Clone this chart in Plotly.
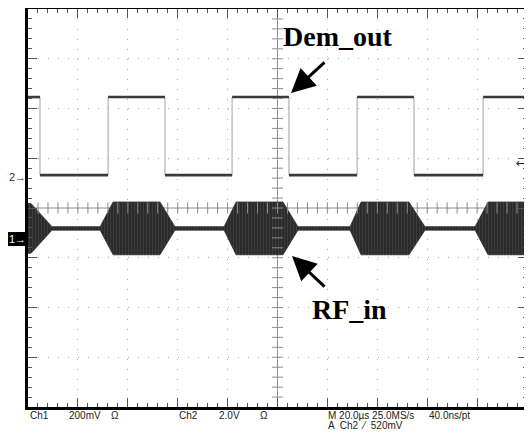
import plotly.graph_objects as go

# ---------------- data (read from the scope screen) ----------------
# time axis in microseconds (20 us/div, 10 div), vertical axis in divisions
# Ch2 demodulated output: transition times and segment levels (div)
sq_edges_us = [-95.2, -67.9, -45.1, -18.2, 4.6, 31.9, 54.7, 82.4]
sq_levels_div = [2.23, 0.66, 2.23, 0.66, 2.23, 0.66, 2.23, 0.66, 2.23]

# Ch1 RF input: burst envelope breakpoints (time, half amplitude in div)
rf_t_us = [-100, -98.8, -90.4, -71.1, -65.9, -47.1, -41.1, -21.4, -16.6,
           2.2, 8.2, 29.1, 33.5, 52.7, 59.1, 79.2, 84.4, 100]
rf_half_div = [0.50, 0.50, 0.035, 0.035, 0.53, 0.53, 0.035, 0.035, 0.53,
               0.53, 0.035, 0.035, 0.53, 0.53, 0.035, 0.035, 0.53, 0.53]
rf_center_div = -0.41

# status line texts
status_top = [("Ch1", 29), ("200mV", 68), ("Ω", 110), ("Ch2", 178),
              ("2.0V", 218), ("Ω", 259), ("M 20.0µs 25.0MS/s", 327),
              ("40.0ns/pt", 428)]
status_bottom = [("A  Ch2  ⁄  520mV", 327)]

# ---------------- geometry helpers ----------------
# the page body has an 8px margin, so the figure starts at (8, 8) in the window
OFF = 8
WIN_W, WIN_H = 532, 436
W, H = WIN_W - OFF, WIN_H - OFF
L, R, T, B = 28, 527, 9, 407          # plot frame in window pixels


def px(xp, yp):
    return (xp - L) / (R - L), (B - yp) / (B - T)


fig = go.Figure()

# RF burst envelope (filled, with carrier-like vertical texture)
up = [rf_center_div + h for h in rf_half_div]
lo = [rf_center_div - h for h in rf_half_div]
fig.add_trace(go.Scatter(
    x=rf_t_us + rf_t_us[::-1], y=up + lo[::-1], mode="lines",
    fill="toself", fillcolor="#2e2e2e",
    fillpattern=dict(shape="|", fgcolor="#5a5a5a", bgcolor="#2b2b2b",
                     size=3, solidity=0.25),
    line=dict(color="#2e2e2e", width=0.8),
    hoverinfo="skip", showlegend=False))

# Square wave: horizontal levels (dark) and edges (light gray)
bounds = [-100] + sq_edges_us + [100]
hx, hy = [], []
for i, lev in enumerate(sq_levels_div):
    hx += [bounds[i], bounds[i + 1], None]
    hy += [lev, lev, None]
vx, vy = [], []
for i, e in enumerate(sq_edges_us):
    vx += [e, e, None]
    vy += [sq_levels_div[i], sq_levels_div[i + 1], None]
fig.add_trace(go.Scatter(x=vx, y=vy, mode="lines",
                         line=dict(color="#a0a0a0", width=1),
                         hoverinfo="skip", showlegend=False))
fig.add_trace(go.Scatter(x=hx, y=hy, mode="lines",
                         line=dict(color="#3a3a3a", width=2.6),
                         hoverinfo="skip", showlegend=False))

# centre graticule lines with cross ticks
ctick_x = [-100 + 4 * k for k in range(1, 50)]
ctick_y = [-4 + 0.2 * k for k in range(1, 40)]
fig.add_trace(go.Scatter(x=ctick_x, y=[0] * len(ctick_x), mode="markers",
                         marker=dict(symbol="line-ns", size=8,
                                     line=dict(color="#8c8c8c", width=1)),
                         hoverinfo="skip", showlegend=False))
fig.add_trace(go.Scatter(x=[0] * len(ctick_y), y=ctick_y, mode="markers",
                         marker=dict(symbol="line-ew", size=8,
                                     line=dict(color="#8c8c8c", width=1)),
                         hoverinfo="skip", showlegend=False))

shapes = [
    dict(type="line", xref="x", yref="y", x0=0, x1=0, y0=-4, y1=4,
         line=dict(color="#8c8c8c", width=1), layer="below"),
    dict(type="line", xref="x", yref="y", x0=-100, x1=100, y0=0, y1=0,
         line=dict(color="#8c8c8c", width=1), layer="below"),
]
# "1" channel marker box
x0, y0 = px(7, 246)
x1, y1 = px(27, 232)
shapes.append(dict(type="rect", xref="paper", yref="paper", x0=x0, x1=x1,
                   y0=y0, y1=y1, fillcolor="black", line=dict(width=0)))
# right-side menu remnants
for ya, yb in [(10, 26), (27, 72), (78, 122)]:
    a, p0 = px(529, yb)
    b, p1 = px(533, ya)
    shapes.append(dict(type="rect", xref="paper", yref="paper", x0=a, x1=b,
                       y0=p0, y1=p1, fillcolor="#d8d8d8",
                       line=dict(color="#b0b0b0", width=1)))

ann = []


def text(t, xp, yp, size, color="#222", family="Liberation Sans",
         xanchor="center"):
    xa, ya = px(xp, yp)
    ann.append(dict(x=xa, y=ya, xref="paper", yref="paper", text=t,
                    showarrow=False, xanchor=xanchor, yanchor="middle",
                    borderpad=0,
                    font=dict(family=family, size=size, color=color)))


# labels
text("<b>Dem_out</b>", 338, 37, 28, "black", "Liberation Serif")
text("<b>RF_in</b>", 349, 309, 28, "black", "Liberation Serif")
# arrows
xa, ya = px(291, 93)
ann.append(dict(x=xa, y=ya, xref="paper", yref="paper", text="", showarrow=True,
                ax=35, ay=-32, arrowhead=2, arrowsize=1.6, arrowwidth=3,
                arrowcolor="black", standoff=0))
xa, ya = px(292, 256)
ann.append(dict(x=xa, y=ya, xref="paper", yref="paper", text="", showarrow=True,
                ax=34, ay=32, arrowhead=2, arrowsize=1.6, arrowwidth=3,
                arrowcolor="black", standoff=0))
# channel markers
text("2→", 27, 177, 11, "#333", xanchor="right")
text("1→", 27, 239, 11, "white", xanchor="right")
# trigger level arrow
text("←", 527, 163, 12, "#222", "DejaVu Sans", xanchor="right")
# menu letters (cut off at the screen edge)
for ch, yy in [("F", 131), ("l", 146), ("r", 159), ("c", 172)]:
    text(ch, 528, yy, 7, "#333", xanchor="left")
# status line
for t, xx in status_top:
    text(t, xx, 415.5, 10, xanchor="left")
for t, xx in status_bottom:
    text(t, xx, 425.5, 10, xanchor="left")

axis_common = dict(showticklabels=False, zeroline=False, showline=True,
                   linecolor="black", linewidth=3, mirror="allticks",
                   ticks="inside", ticklen=9, tickwidth=1, tickcolor="#555",
                   showgrid=True, gridcolor="#a8a8a8", gridwidth=1,
                   griddash="1px,9px", fixedrange=True)

fig.update_xaxes(range=[-100, 100], tick0=-100, dtick=20,
                 minor=dict(tick0=-100, dtick=4, ticks="inside", ticklen=4,
                            tickcolor="#555", showgrid=False),
                 **axis_common)
fig.update_yaxes(range=[-4, 4], tick0=-4, dtick=1,
                 minor=dict(tick0=-4, dtick=0.2, ticks="inside", ticklen=4,
                            tickcolor="#555", showgrid=False),
                 **axis_common)

fig.update_layout(width=W, height=H,
                  margin=dict(l=L - OFF, r=WIN_W - R, t=T - OFF,
                              b=WIN_H - B, autoexpand=False),
                  paper_bgcolor="white", plot_bgcolor="white",
                  shapes=shapes, annotations=ann, showlegend=False)

fig.write_html("out.html")
